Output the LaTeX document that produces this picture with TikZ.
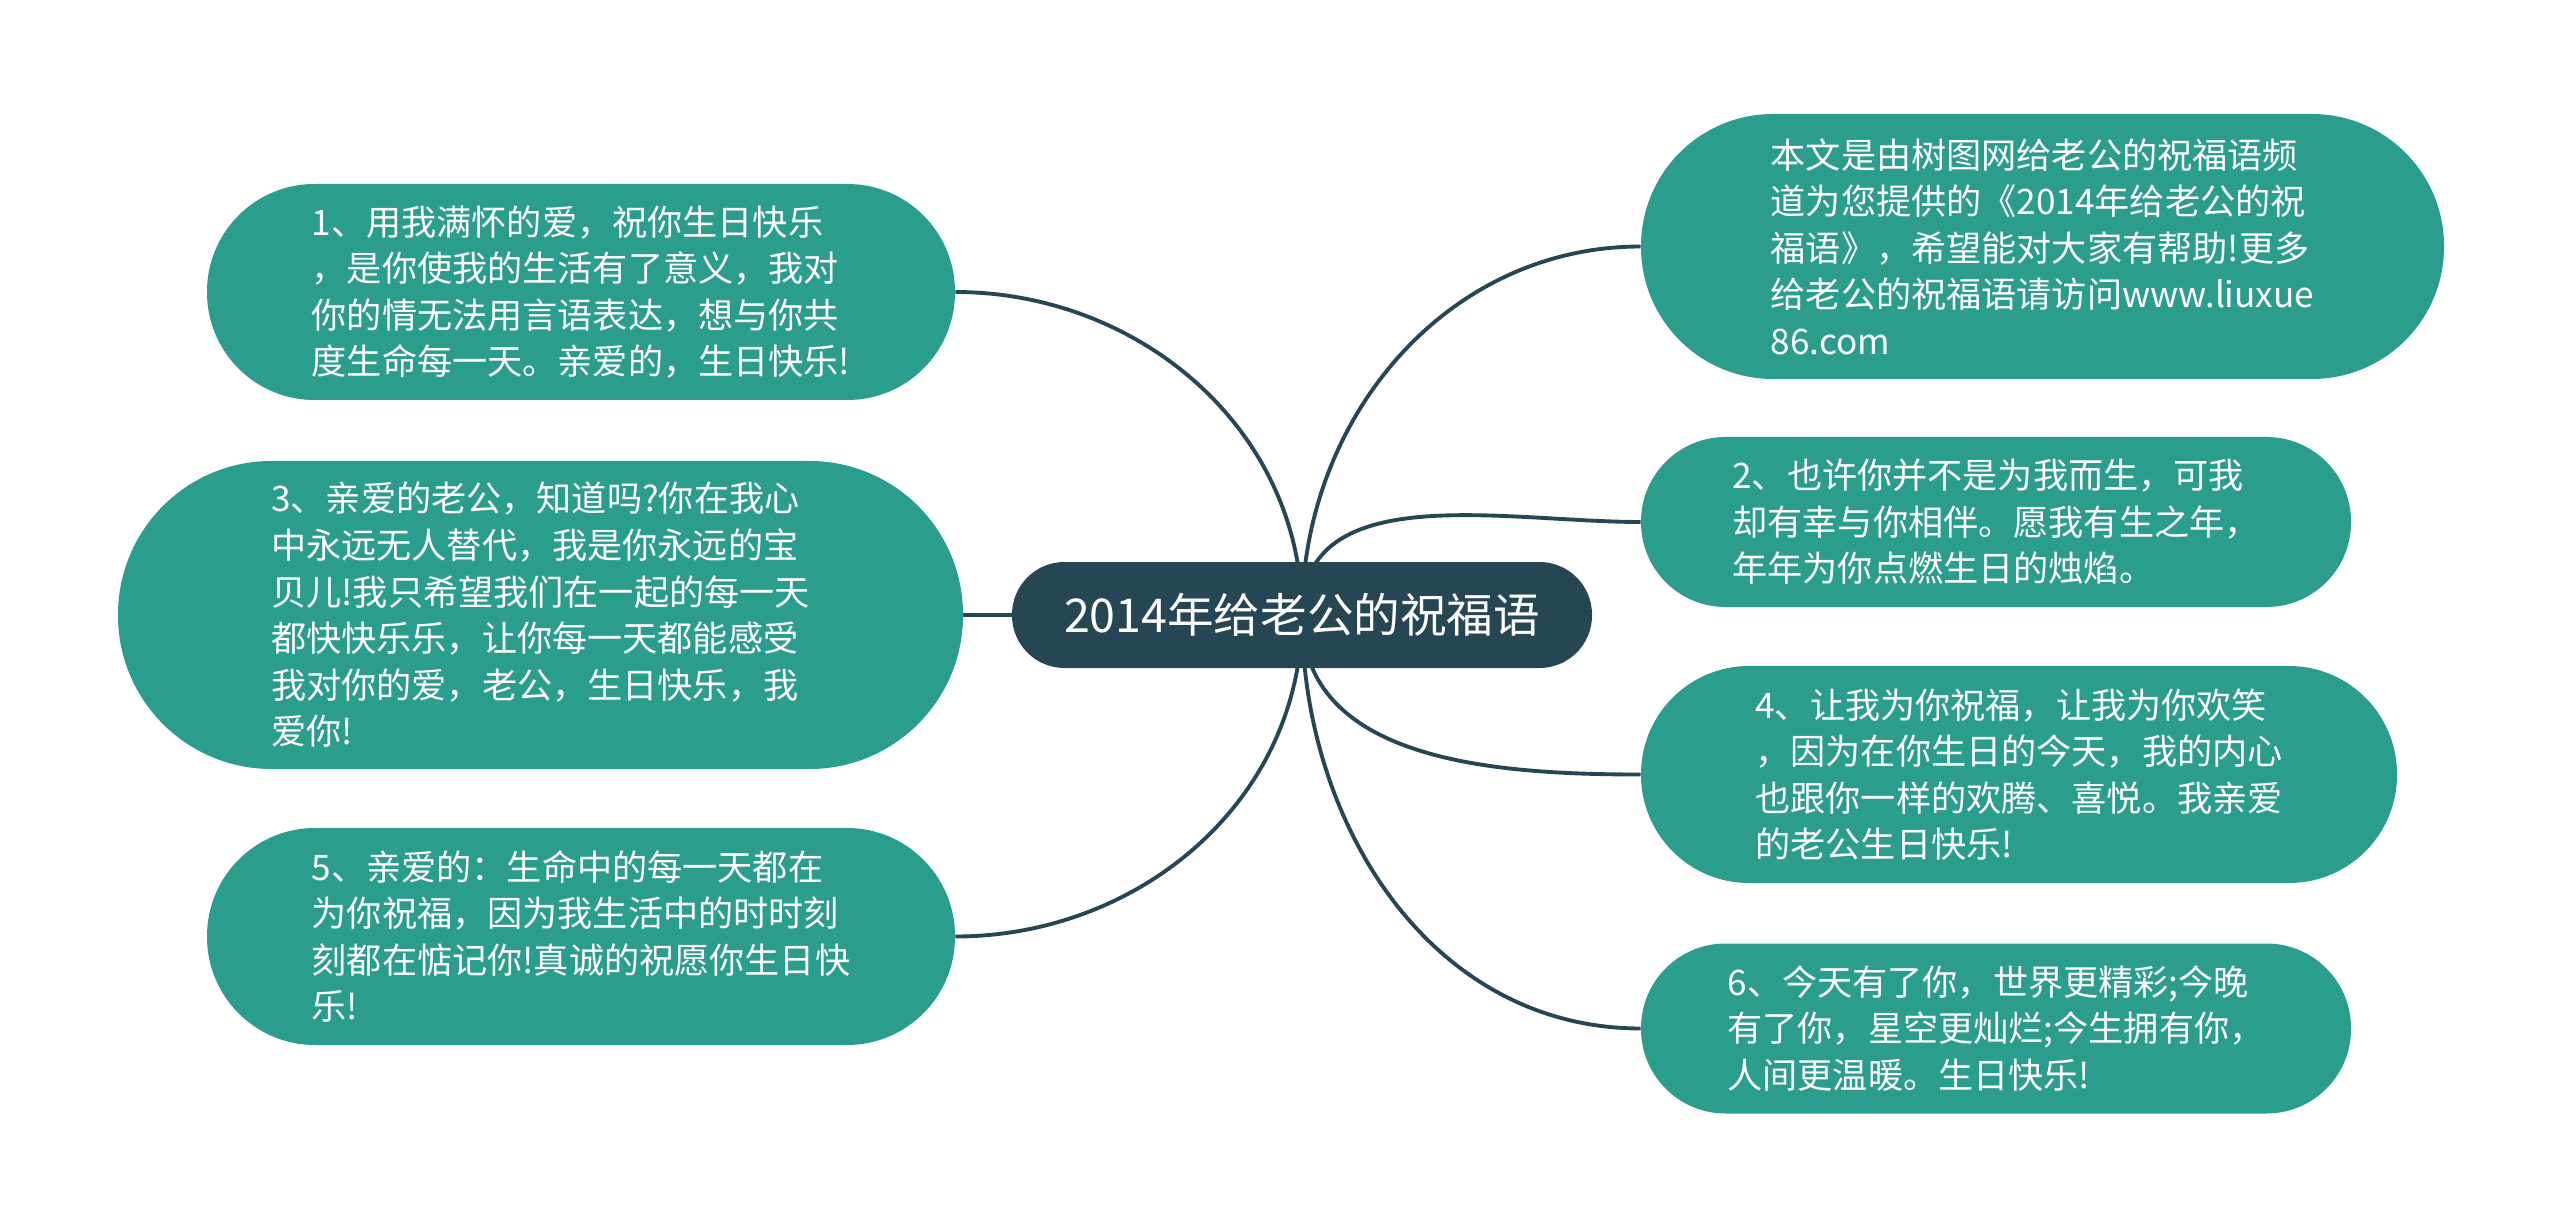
\documentclass[tikz,border=0pt]{standalone}
\usepackage{fontspec}
\newfontfamily\cjk{Noto Sans CJK SC}
\usepackage{tikz}
\usetikzlibrary{backgrounds}
\definecolor{leafcol}{HTML}{2A9D8C}
\definecolor{rootcol}{HTML}{264653}
\tikzstyle{leaf} = [rectangle, fill=leafcol, text=white, align=left, inner sep=0, font=\cjk\fontsize{20}{26.5}\selectfont]
\tikzstyle{root} = [rectangle, fill=rootcol, text=white, inner sep=0, minimum width=11.6cm, minimum height=2.12cm, rounded corners=1.05cm, font=\cjk\fontsize{26.5}{32}\selectfont]
\tikzstyle{branch} = [draw=rootcol, line width=2.2pt]

\begin{document}
\begin{tikzpicture}
  \useasboundingbox (0,0) rectangle (51.2,-24.6);

  \node [root] (root) at (26.04,-12.3) {2014年给老公的祝福语};

  % left side
  \node [leaf, minimum width=14.96cm, minimum height=4.32cm, rounded corners=2.15cm] (n1) at (11.62,-5.84)
    {1、用我满怀的爱，祝你生日快乐\\，是你使我的生活有了意义，我对\\你的情无法用言语表达，想与你共\\度生命每一天。亲爱的，生日快乐!};
  \node [leaf, minimum width=16.9cm, minimum height=6.16cm, rounded corners=3.07cm] (n3) at (10.81,-12.3)
    {3、亲爱的老公，知道吗?你在我心\\中永远无人替代，我是你永远的宝\\贝儿!我只希望我们在一起的每一天\\都快快乐乐，让你每一天都能感受\\我对你的爱，老公，生日快乐，我\\爱你!};
  \node [leaf, minimum width=14.96cm, minimum height=4.34cm, rounded corners=2.16cm] (n5) at (11.62,-18.73)
    {5、亲爱的：生命中的每一天都在\\为你祝福，因为我生活中的时时刻\\刻都在惦记你!真诚的祝愿你生日快\\乐!};

  % right side
  \node [leaf, minimum width=16.06cm, minimum height=5.3cm, rounded corners=2.64cm] (n0) at (40.85,-4.93)
    {本文是由树图网给老公的祝福语频\\道为您提供的《2014年给老公的祝\\福语》，希望能对大家有帮助!更多\\给老公的祝福语请访问www.liuxue\\86.com};
  \node [leaf, minimum width=14.2cm, minimum height=3.4cm, rounded corners=1.69cm] (n2) at (39.92,-10.44)
    {2、也许你并不是为我而生，可我\\却有幸与你相伴。愿我有生之年，\\年年为你点燃生日的烛焰。};
  \node [leaf, minimum width=15.12cm, minimum height=4.34cm, rounded corners=2.16cm] (n4) at (40.38,-15.49)
    {4、让我为你祝福，让我为你欢笑\\，因为在你生日的今天，我的内心\\也跟你一样的欢腾、喜悦。我亲爱\\的老公生日快乐!};
  \node [leaf, minimum width=14.2cm, minimum height=3.4cm, rounded corners=1.69cm] (n6) at (39.92,-20.57)
    {6、今天有了你，世界更精彩;今晚\\有了你，星空更灿烂;今生拥有你，\\人间更温暖。生日快乐!};

  \begin{scope}[on background layer]
    \draw [branch] (root.center) to[out=90,in=0] (n1.east);
    \draw [branch] (root.center) -- (n3.east);
    \draw [branch] (root.center) to[out=270,in=0] (n5.east);
    \draw [branch] (root.center) to[out=90,in=180] (n0.west);
    \draw [branch] (root.center) to[out=90,in=180] (n2.west);
    \draw [branch] (root.center) to[out=270,in=180] (n4.west);
    \draw [branch] (root.center) to[out=270,in=180] (n6.west);
  \end{scope}
\end{tikzpicture}
\end{document}
